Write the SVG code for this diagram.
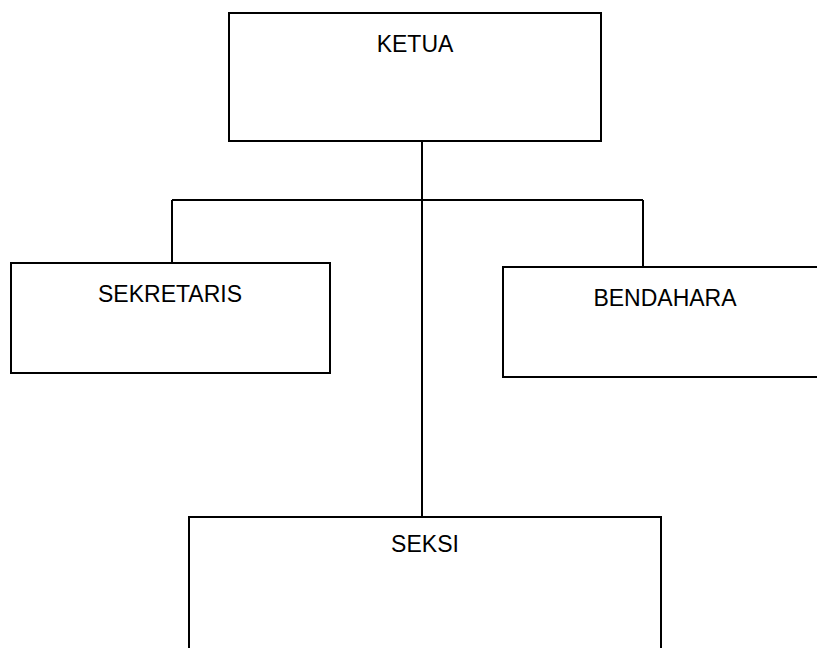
<svg xmlns="http://www.w3.org/2000/svg" width="817" height="648" viewBox="0 0 817 648">
<style>
.box{fill:#fff;stroke:#000;stroke-width:2}
.lbl{font-family:"Liberation Sans",Arial,sans-serif;font-size:23px;fill:#000;text-anchor:middle}
.con{stroke:#000;stroke-width:2;fill:none}
</style>
<rect width="817" height="648" fill="#fff"/>
<g id="connectors">
<line class="con" x1="422" y1="141" x2="422" y2="517"/>
<line class="con" x1="172" y1="200" x2="643" y2="200"/>
<line class="con" x1="172" y1="200" x2="172" y2="263"/>
<line class="con" x1="643" y1="200" x2="643" y2="267"/>
</g>
<g id="ketua">
<rect class="box" x="229" y="13" width="372" height="128"/>
<text class="lbl" x="415" y="52">KETUA</text>
</g>
<g id="sekretaris">
<rect class="box" x="11" y="263" width="319" height="110"/>
<text class="lbl" x="170" y="302">SEKRETARIS</text>
</g>
<g id="bendahara">
<rect class="box" x="503" y="267" width="330" height="110"/>
<text class="lbl" x="665" y="306">BENDAHARA</text>
</g>
<g id="seksi">
<rect class="box" x="189" y="517" width="472" height="150"/>
<text class="lbl" x="425" y="552">SEKSI</text>
</g>
</svg>
